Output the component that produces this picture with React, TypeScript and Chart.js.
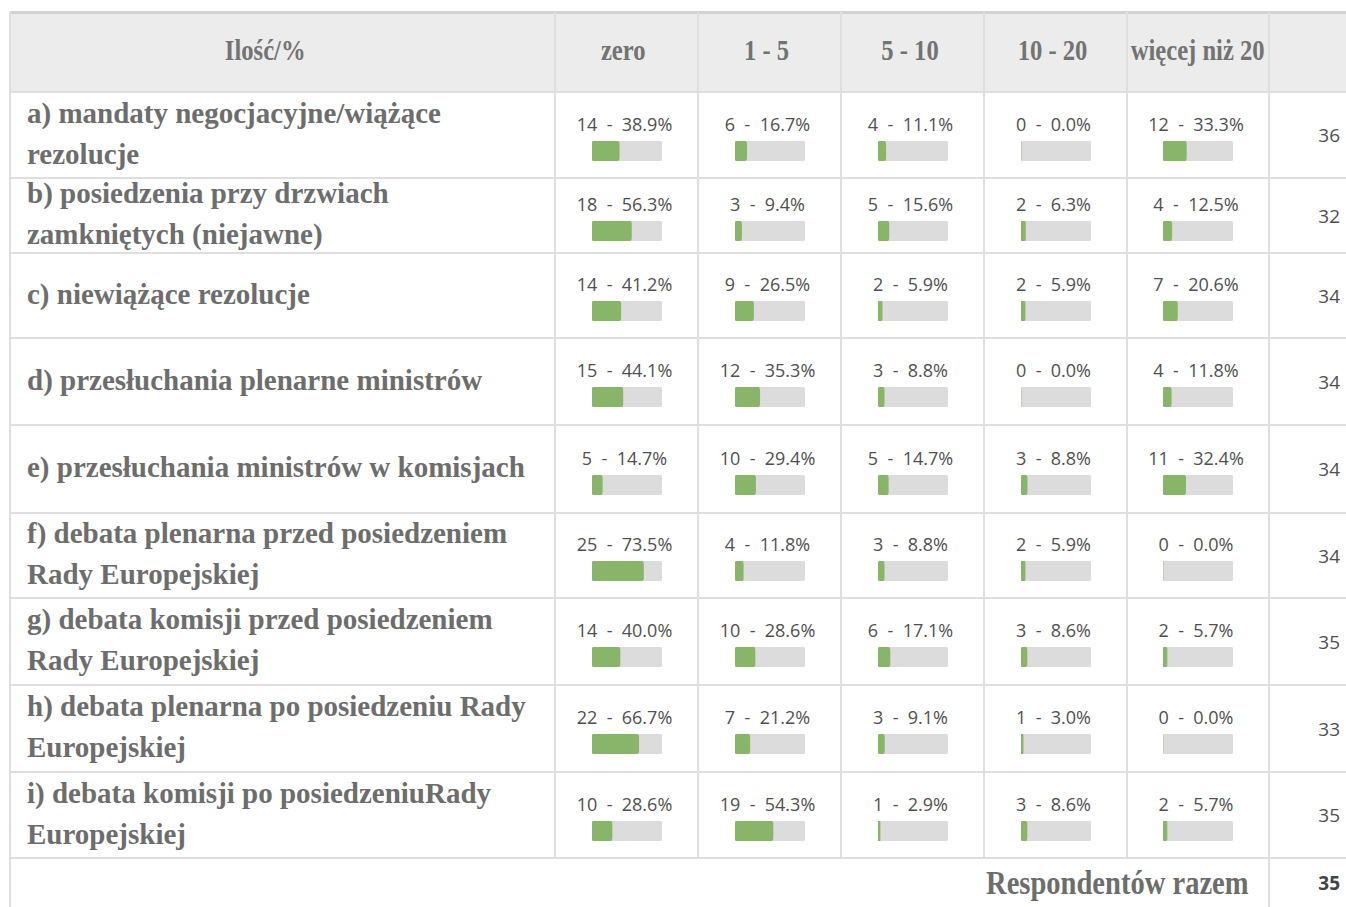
import React, { useEffect, useRef } from "react";
import { Chart, registerables } from "chart.js";

Chart.register(...registerables);

// ---------- DATA ----------
const headerLabel = "Ilość/%";
const columns = ["zero", "1 - 5", "5 - 10", "10 - 20", "więcej niż 20"];
const categories = [
  "a) mandaty negocjacyjne/wiążące\nrezolucje",
  "b) posiedzenia przy drzwiach\nzamkniętych (niejawne)",
  "c) niewiążące rezolucje",
  "d) przesłuchania plenarne ministrów",
  "e) przesłuchania ministrów w komisjach",
  "f) debata plenarna przed posiedzeniem\nRady Europejskiej",
  "g) debata komisji przed posiedzeniem\nRady Europejskiej",
  "h) debata plenarna po posiedzeniu Rady\nEuropejskiej",
  "i) debata komisji po posiedzeniuRady\nEuropejskiej",
];
const countsZero = [14, 18, 14, 15, 5, 25, 14, 22, 10];
const countsOneFive = [6, 3, 9, 12, 10, 4, 10, 7, 19];
const countsFiveTen = [4, 5, 2, 3, 5, 3, 6, 3, 1];
const countsTenTwenty = [0, 2, 2, 0, 3, 2, 3, 1, 3];
const countsOverTwenty = [12, 4, 7, 4, 11, 0, 2, 0, 2];
const pctZero = [38.9, 56.3, 41.2, 44.1, 14.7, 73.5, 40.0, 66.7, 28.6];
const pctOneFive = [16.7, 9.4, 26.5, 35.3, 29.4, 11.8, 28.6, 21.2, 54.3];
const pctFiveTen = [11.1, 15.6, 5.9, 8.8, 14.7, 8.8, 17.1, 9.1, 2.9];
const pctTenTwenty = [0.0, 6.3, 5.9, 0.0, 8.8, 5.9, 8.6, 3.0, 8.6];
const pctOverTwenty = [33.3, 12.5, 20.6, 11.8, 32.4, 0.0, 5.7, 0.0, 5.7];
const rowTotals = [36, 32, 34, 34, 34, 34, 35, 33, 35];
const footerLabel = "Respondentów razem";
const footerTotal = 35;

const countsByCol = [countsZero, countsOneFive, countsFiveTen, countsTenTwenty, countsOverTwenty];
const pctByCol = [pctZero, pctOneFive, pctFiveTen, pctTenTwenty, pctOverTwenty];

// ---------- LAYOUT / STYLE ----------
const COL_X = [10, 555, 698, 841, 984, 1127, 1269, 1420];
const ROW_Y = [12, 92, 178, 253, 338, 425, 513, 598, 685, 772, 858, 960];
const GREEN = "#88b56a";
const TRACK = "#dcdcdc";
const LINE = "#dfdfdf";
const SERIF = "'Liberation Serif', 'Times New Roman', serif";
const SANS = "'Open Sans', 'Lato', sans-serif";
const GRAY_TEXT = "#6d6d6d";

function MiniBar({ value }: { value: number }) {
  const ref = useRef<HTMLCanvasElement>(null);
  useEffect(() => {
    const chart = new Chart(ref.current as HTMLCanvasElement, {
      type: "bar",
      data: {
        labels: [""],
        datasets: [
          {
            data: [value],
            backgroundColor: GREEN,
            borderRadius: 3,
            borderSkipped: false,
            barPercentage: 1,
            categoryPercentage: 1,
            grouped: false,
            order: 0,
          } as any,
          {
            data: [100],
            backgroundColor: TRACK,
            borderRadius: 3,
            borderSkipped: false,
            barPercentage: 1,
            categoryPercentage: 1,
            grouped: false,
            order: 1,
          } as any,
        ],
      },
      options: {
        indexAxis: "y",
        responsive: false,
        animation: false,
        events: [],
        layout: { padding: 0 },
        plugins: { legend: { display: false }, tooltip: { enabled: false } },
        scales: {
          x: { display: false, min: 0, max: 100 },
          y: { display: false },
        },
      },
    });
    return () => chart.destroy();
  }, [value]);
  return <canvas ref={ref} width={70} height={20} style={{ width: 70, height: 20, display: "block" }} />;
}

export default function App() {
  const abs = (x: number, y: number, w: number, h: number): React.CSSProperties => ({
    position: "absolute",
    left: x,
    top: y,
    width: w,
    height: h,
  });
  const lines: React.ReactNode[] = [];
  ROW_Y.slice(0, 11).forEach((y, i) => {
    lines.push(
      <div key={"h" + i} style={{ ...abs(COL_X[0], y - 1, 1346 - COL_X[0], i === 0 ? 3 : 2), background: i === 0 ? "#d2d2d2" : LINE }} />
    );
  });
  COL_X.slice(0, 7).forEach((x, i) => {
    const full = i === 0 || i === 6;
    lines.push(
      <div key={"v" + i} style={{ ...abs(x - 1, ROW_Y[0], 2, (full ? 907 : ROW_Y[10]) - ROW_Y[0]), background: LINE }} />
    );
  });

  const headerCells = [headerLabel, ...columns].map((t, i) => (
    <div
      key={"hd" + i}
      style={{
        ...abs(COL_X[i], ROW_Y[0], COL_X[i + 1] - COL_X[i], ROW_Y[1] - ROW_Y[0]),
        display: "flex",
        alignItems: "center",
        justifyContent: "center",
        fontFamily: SERIF,
        fontWeight: 700,
        fontSize: 30,
        color: "#737373",
        paddingRight: i === 0 ? 34 : i === columns.length ? 0 : 6,
        paddingBottom: 4,
        boxSizing: "border-box",
      }}
    >
      <span style={{ display: "inline-block", transform: "scaleX(0.82)", whiteSpace: "nowrap" }}>{t}</span>
    </div>
  ));

  const body: React.ReactNode[] = [];
  categories.forEach((label, r) => {
    const y0 = ROW_Y[r + 1];
    const h = ROW_Y[r + 2] - y0;
    body.push(
      <div
        key={"lab" + r}
        style={{
          ...abs(COL_X[0] + 17, y0, COL_X[1] - COL_X[0] - 18, h),
          display: "flex",
          alignItems: "center",
          fontFamily: SERIF,
          fontWeight: 700,
          fontSize: 29,
          lineHeight: "41px",
          color: GRAY_TEXT,
          whiteSpace: "pre-line",
        }}
      >
        <div style={{ marginTop: -3 }}>{label}</div>
      </div>
    );
    columns.forEach((_, c) => {
      body.push(
        <div
          key={"c" + r + "_" + c}
          style={{
            ...abs(COL_X[c + 1], y0, COL_X[c + 2] - COL_X[c + 1], h),
            display: "flex",
            flexDirection: "column",
            alignItems: "center",
            justifyContent: "center",
          }}
        >
          <div
            style={{
              fontFamily: SANS,
              fontSize: 18,
              lineHeight: "22px",
              color: "#505050",
              whiteSpace: "pre",
              marginBottom: 6,
              marginTop: 3,
              paddingRight: 4,
            }}
          >
            {countsByCol[c][r] + "  -  " + pctByCol[c][r].toFixed(1) + "%"}
          </div>
          <MiniBar value={pctByCol[c][r]} />
        </div>
      );
    });
    body.push(
      <div
        key={"tot" + r}
        style={{
          ...abs(COL_X[6], y0, 1340 - COL_X[6], h),
          display: "flex",
          alignItems: "center",
          justifyContent: "flex-end",
          fontFamily: SANS,
          fontSize: 19,
          color: "#505050",
        }}
      >
        {rowTotals[r]}
      </div>
    );
  });

  return (
    <div
      style={{
        position: "fixed",
        left: 0,
        top: 0,
        width: 1346,
        height: 907,
        overflow: "hidden",
        background: "#ffffff",
      }}
    >
      <div style={{ ...abs(COL_X[0], ROW_Y[0], 1346 - COL_X[0], ROW_Y[1] - ROW_Y[0]), background: "#ececec" }} />
      {lines}
      {headerCells}
      {body}
      <div
        style={{
          ...abs(COL_X[0], ROW_Y[10], COL_X[6] - COL_X[0] - 20, 907 - ROW_Y[10]),
          display: "flex",
          alignItems: "center",
          justifyContent: "flex-end",
          fontFamily: SERIF,
          fontWeight: 700,
          fontSize: 34,
          color: GRAY_TEXT,
        }}
      >
        <span style={{ display: "inline-block", transform: "scaleX(0.84)", transformOrigin: "right center", whiteSpace: "nowrap" }}>
          {footerLabel}
        </span>
      </div>
      <div
        style={{
          ...abs(COL_X[6], ROW_Y[10], 1340 - COL_X[6], 907 - ROW_Y[10]),
          display: "flex",
          alignItems: "center",
          justifyContent: "flex-end",
          fontFamily: SANS,
          fontWeight: 700,
          fontSize: 19,
          color: "#444",
        }}
      >
        {footerTotal}
      </div>
    </div>
  );
}
